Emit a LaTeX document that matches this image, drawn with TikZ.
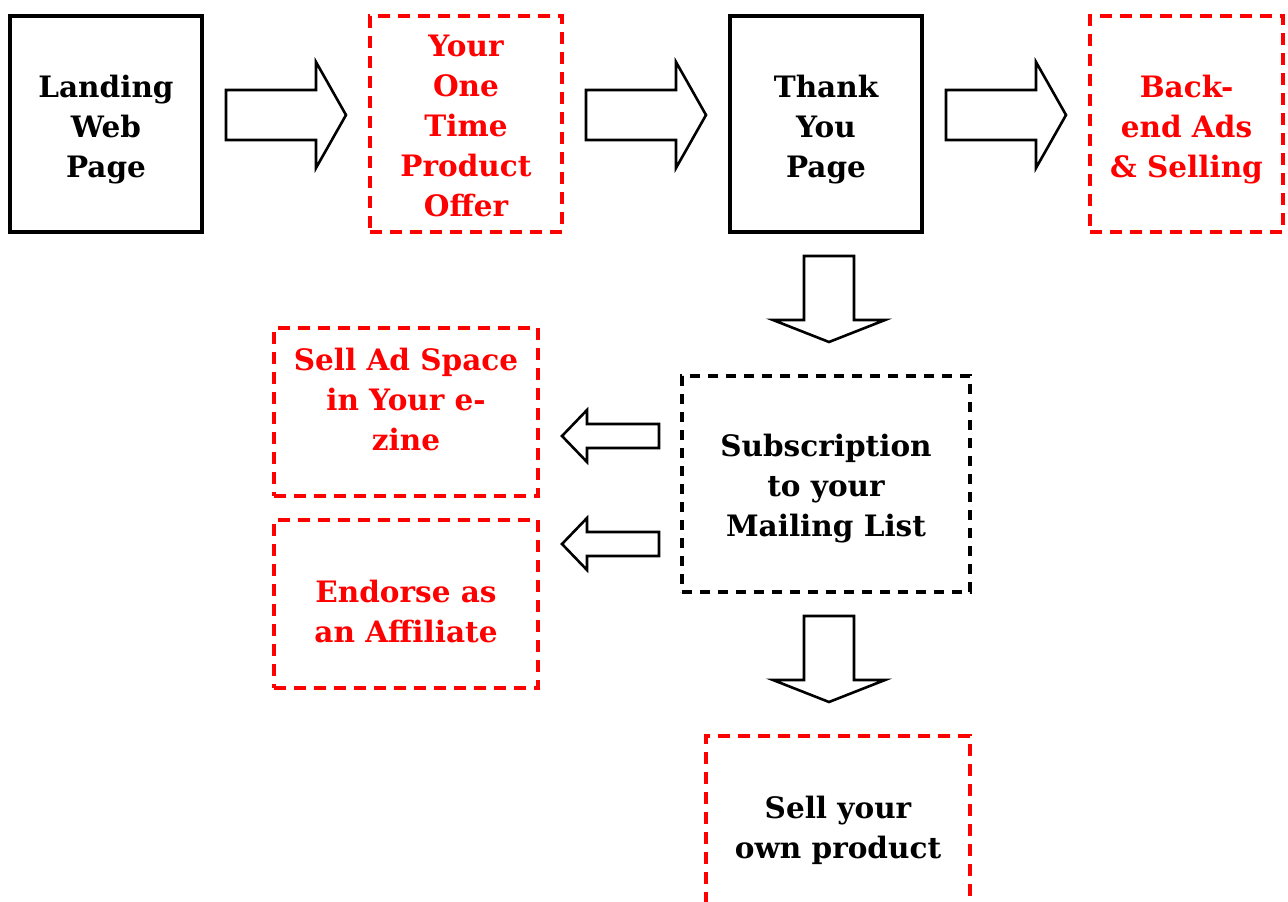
\documentclass[tikz,border=0pt]{standalone}
\usepackage{fontspec}
\setmainfont{DejaVu Serif}
\definecolor{redline}{RGB}{255,0,0}
\begin{document}
\begin{tikzpicture}[x=1pt,y=-1pt,
  solidbox/.style={draw=black,line width=3.5pt,inner sep=0pt,minimum width=192pt,minimum height=216pt},
  reddash/.style={draw=redline,line width=3.5pt,dash pattern=on 12pt off 8pt,inner sep=0pt},
  blackdash/.style={draw=black,line width=3.5pt,dash pattern=on 10pt off 8pt,inner sep=0pt},
  txt/.style={align=center,font=\fontsize{29.5}{40}\selectfont\bfseries,inner sep=0pt},
  blockarrow/.style={draw=black,line width=2.6pt,fill=white,line join=miter}]
\useasboundingbox (0,0) rectangle (1288,902);
% boxes
\node[solidbox] (landing) at (106,124) {};
\node[reddash,minimum width=192pt,minimum height=216pt] (offer) at (466,124) {};
\node[solidbox] (thanks) at (826,124) {};
\node[reddash,minimum width=193pt,minimum height=216pt] (backend) at (1186.5,124) {};
\node[reddash,minimum width=264pt,minimum height=168pt] (adspace) at (406,412) {};
\node[reddash,minimum width=264pt,minimum height=168pt] (endorse) at (406,604) {};
\node[blackdash,minimum width=288pt,minimum height=216pt] (subs) at (826,484) {};
\node[reddash,minimum width=264pt,minimum height=216pt] (own) at (838,844) {};
% texts
\node[txt] (tlanding) at (landing.center) [yshift=-6pt] {Landing\\Web\\Page};
\node[txt,text=redline] (toffer) at (offer.center) [yshift=-2pt] {Your\\One\\Time\\Product\\Offer};
\node[txt] (tthanks) at (thanks.center) [yshift=-6pt] {Thank\\You\\Page};
\node[txt,text=redline] (tbackend) at (backend.center) [yshift=-6pt] {Back-\\end Ads\\\& Selling};
\node[txt,text=redline] (tadspace) at (406,399) {Sell Ad Space\\in Your e-\\zine};
\node[txt,text=redline] (tendorse) at (406,611) {Endorse as\\an Affiliate};
\node[txt] (tsubs) at (826,489) {Subscription\\to your\\Mailing List};
\node[txt] (town) at (838,830) {Sell your\\own product};
% right block arrows
\foreach \x in {226,586,946}{
  \draw[blockarrow] (\x,90) -- (\x+90,90) -- (\x+90,62) -- (\x+120,115) -- (\x+90,168) -- (\x+90,140) -- (\x,140) -- cycle;
}
% down block arrows
\foreach \y in {256,616}{
  \draw[blockarrow] (804,\y) -- (854,\y) -- (854,\y+64) -- (885,\y+64) -- (829,\y+86) -- (773,\y+64) -- (804,\y+64) -- cycle;
}
% left block arrows
\foreach \y in {436,544}{
  \draw[blockarrow] (659,\y-12) -- (587,\y-12) -- (587,\y-26) -- (562,\y) -- (587,\y+26) -- (587,\y+12) -- (659,\y+12) -- cycle;
}
\end{tikzpicture}
\end{document}
